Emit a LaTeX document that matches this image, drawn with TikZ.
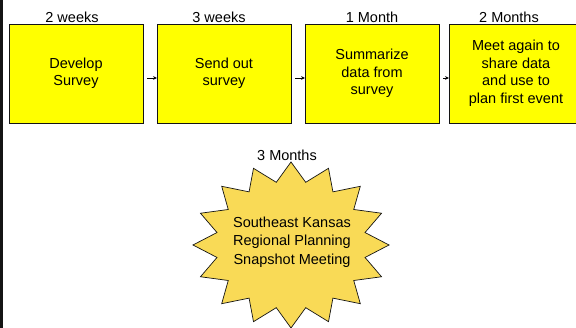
\documentclass[tikz,border=0pt]{standalone}
\usepackage{fontspec}
\setmainfont{Liberation Sans}
\usetikzlibrary{arrows.meta,positioning}
\definecolor{boxyellow}{HTML}{FFFF00}
\definecolor{stargold}{HTML}{F9DA56}
\definecolor{ink}{HTML}{141414}
\tikzset{
  stepbox/.style={draw=ink,fill=boxyellow,line width=0.8pt,outer sep=0pt,
                  minimum width=134pt,minimum height=99pt,
                  align=center,inner sep=2pt,font=\fontsize{14.5}{17.5}\selectfont},
  timelabel/.style={font=\fontsize{14.5}{17.5}\selectfont,inner sep=1pt,anchor=south},
  startext/.style={align=center,inner sep=0pt,font=\fontsize{14.5}{18.5}\selectfont},
  starshape/.style={draw=ink,fill=stargold,line width=0.7pt,line join=miter},
  steparr/.style={-{Stealth[length=4pt,width=3.6pt]},line width=0.6pt,shorten <=4pt}
}

\begin{document}
\begin{tikzpicture}[x=1pt,y=1pt]
      \useasboundingbox (0,0) rectangle (576,328);
      \clip (0,0) rectangle (576,328);
      \fill[white] (0,0) rectangle (576,328);
      \fill[ink] (0,0) rectangle (2.5,328);

      % timeline of steps
      \node[stepbox] (develop) at (76,254.5) {Develop\\Survey};
      \node[stepbox,right=14pt of develop] (sendout) {Send out\\survey};
      \node[stepbox,right=14pt of sendout] (summarize) {Summarize\\data from\\survey};
      \node[stepbox,right=10pt of summarize] (meetagain) {Meet again to\\share data\\and use to\\plan first event};

      % durations above the boxes
      \node[timelabel,xshift=-4pt] (twoweeks) at (develop.north) {2 weeks};
      \node[timelabel,xshift=-5pt] (threeweeks) at (sendout.north) {3 weeks};
      \node[timelabel] (onemonth) at (summarize.north) {1 Month};
      \node[timelabel,xshift=-7pt] (twomonths) at (meetagain.north) {2 Months};

      \draw[steparr] ([yshift=-4.5pt]develop.east) -- ([yshift=-4.5pt]sendout.west);
      \draw[steparr] ([yshift=-4.5pt]sendout.east) -- ([yshift=-4.5pt]summarize.west);
      \draw[steparr] ([yshift=-4.5pt]summarize.east) -- ([yshift=-4.5pt]meetagain.west);

      % burst for the meeting
      \coordinate (burst) at (291,83);
      \draw[starshape,shift={(burst)}] (90:98 and 83)
        \foreach \k [evaluate=\k as \r using {mod(\k,2)==0 ? 1 : 0.77}] in {1,...,31} {
          -- ({90+\k*11.25}:{98*\r} and {83*\r})
        } -- cycle;
      \node[startext] (meeting) at (292,86) {Southeast Kansas\\Regional Planning\\Snapshot Meeting};
      \node[timelabel,anchor=center] (threemonths) at (287,173) {3 Months};
    \end{tikzpicture}
\end{document}
